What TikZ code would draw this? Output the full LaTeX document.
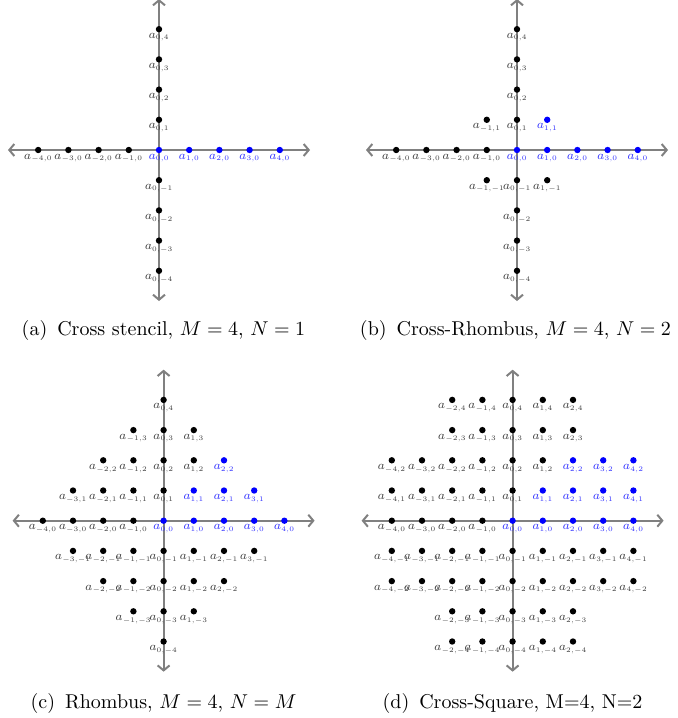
\documentclass[tikz,border=0pt]{standalone}
\usetikzlibrary{arrows.meta}
\tikzset{
  ptblack/.style={circle,fill=black,inner sep=0pt,minimum size=3.2pt},
  ptblue/.style={circle,fill=blue,inner sep=0pt,minimum size=3.2pt},
  ptlab/.style={font=\scriptsize,inner sep=0pt,anchor=base,text=black!75},
  ptlabblue/.style={ptlab,text=blue!80},
  axisline/.style={draw=gray,line width=1pt,{Straight Barb[length=2.5pt,width=6pt]}-{Straight Barb[length=2.5pt,width=6pt]}},
  capt/.style={anchor=base,inner sep=0pt,font=\normalsize},
  panel/.style={x=15.1pt,y=15.1pt}
}
\newcommand\stlab[2]{\scalebox{0.85}{$a_{\scalebox{0.82}{$\scriptscriptstyle #1,#2$}}$}}
\newcommand\stpt[3]{%
  \pgfmathtruncatemacro\isblue{and(#3>=0,#2>=#3)}%
  \ifnum\isblue=1
    \node[ptlabblue] (#1-#2-#3-l) at ([yshift=-4.5pt]#2,#3) {\stlab{#2}{#3}};
    \node[ptblue] (#1-#2-#3) at (#2,#3) {};
  \else
    \node[ptlab] (#1-#2-#3-l) at ([yshift=-4.5pt]#2,#3) {\stlab{#2}{#3}};
    \node[ptblack] (#1-#2-#3) at (#2,#3) {};
  \fi}
\newcommand\staxes[1]{%
  \coordinate (#1-W) at (-5,0); \coordinate (#1-E) at (5,0);
  \coordinate (#1-S) at (0,-5); \coordinate (#1-N) at (0,5);
  \draw[axisline] (#1-W) -- (#1-E);
  \draw[axisline] (#1-S) -- (#1-N);}
\begin{document}
\begin{tikzpicture}[x=0.5pt,y=-0.5pt]
\useasboundingbox (0,0) rectangle (678,718);
% (a)
\begin{scope}[shift={(159,150)},panel]
  \staxes{a}
  \foreach \i in {-4,...,4} {\stpt{a}{\i}{0}}
  \foreach \j in {-4,-3,-2,-1,1,2,3,4} {\stpt{a}{0}{\j}}
\end{scope}
% (b)
\begin{scope}[shift={(517,150)},panel]
  \staxes{b}
  \foreach \i in {-4,...,4} {\stpt{b}{\i}{0}}
  \foreach \j in {-4,-3,-2,-1,1,2,3,4} {\stpt{b}{0}{\j}}
  \foreach \i/\j in {-1/1,1/1,-1/-1,1/-1} {\stpt{b}{\i}{\j}}
\end{scope}
% (c)
\begin{scope}[shift={(163.6,520.7)},panel]
  \staxes{c}
  \foreach \j in {-4,...,4} {
    \pgfmathtruncatemacro\mp{4-abs(\j)}
    \pgfmathtruncatemacro\mn{-\mp}
    \foreach \i in {\mn,...,\mp} {\stpt{c}{\i}{\j}}
  }
\end{scope}
% (d)
\begin{scope}[shift={(512.6,520.7)},panel]
  \staxes{d}
  \foreach \j in {-2,...,2} {
    \foreach \i in {-4,...,4} {\stpt{d}{\i}{\j}}
  }
  \foreach \j in {-4,-3,3,4} {
    \foreach \i in {-2,...,2} {\stpt{d}{\i}{\j}}
  }
\end{scope}
% captions
\node[capt] (capa) at (163.5,335) {(a)\enspace Cross stencil, $M=4$, $N=1$};
\node[capt] (capb) at (515.5,335) {(b)\enspace Cross-Rhombus, $M=4$, $N=2$};
\node[capt] (capc) at (163.5,708) {(c)\enspace Rhombus, $M=4$, $N=M$};
\node[capt] (capd) at (512.5,708) {(d)\enspace Cross-Square, M=4, N=2};
\end{tikzpicture}
\end{document}
